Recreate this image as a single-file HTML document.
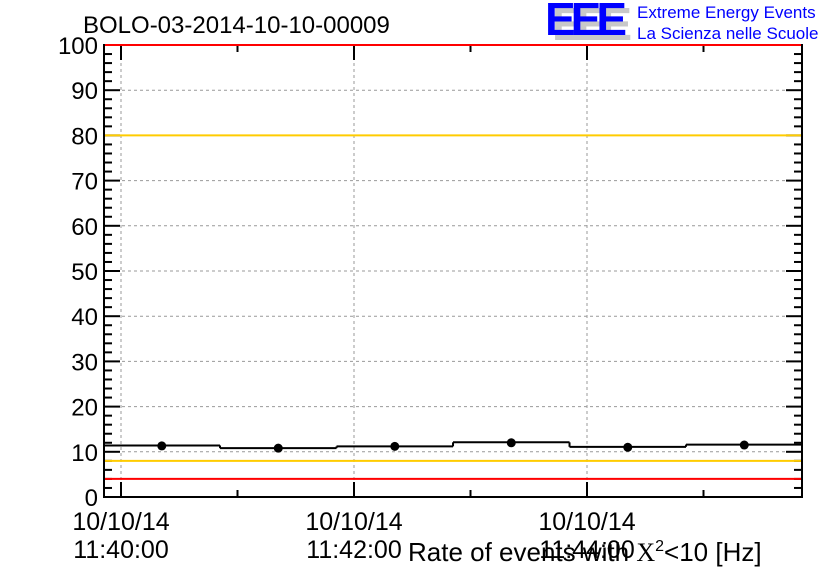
<!DOCTYPE html>
<html><head><meta charset="utf-8"><style>
body{margin:0;background:#fff;}
svg{display:block;font-family:"Liberation Sans",sans-serif;}
</style></head><body>
<svg id="c" width="836" height="572" xmlns="http://www.w3.org/2000/svg">
<rect width="836" height="572" fill="#fff"/>
<text x="83" y="33" font-size="24" fill="#000">BOLO-03-2014-10-10-00009</text>
<g>
<text x="552" y="40" font-size="46" font-weight="bold" fill="#c8c8c8" textLength="80">EEE</text>
<text x="545" y="35" font-size="46" font-weight="bold" fill="#0000ff" textLength="82">EEE</text>
<text x="637" y="18" font-size="17" fill="#0000ff">Extreme Energy Events</text>
<text x="637" y="39" font-size="17" fill="#0000ff">La Scienza nelle Scuole</text>
</g>
<g id="grid"></g><g id="marks"></g><g id="axes"></g><g id="lines"></g>
<text x="408" y="561" font-size="26" fill="#000">Rate of events with <tspan font-family="Liberation Serif">X</tspan><tspan dy="-10" font-size="16">2</tspan><tspan dy="10">&lt;10 [Hz]</tspan></text>
</svg>
<script>
const yTicks=[0,10,20,30,40,50,60,70,80,90,100];
const timeLabels=["11:40:00","11:42:00","11:44:00"];
const dateLabels=["10/10/14","10/10/14","10/10/14"];
const tickSeconds=[0,120,240];
const binStarts=[-9,51,111,171,231,291];
const binValues=[11.4,10.8,11.2,12.1,11.1,11.6];
const pointValues=[11.3,10.8,11.2,12.0,11.0,11.5];
const refLevels=[100,80,8,4];
const refColors=["#ff0000","#ffcc00","#ffcc00","#ff0000"];
const L=104,R=802,T=45,B=497,binW=60;
const sx=s=>121+s*(233/120);
const sy=v=>B-(v/100)*(B-T);
const NS="http://www.w3.org/2000/svg";
function mk(p,tag,a){const e=document.createElementNS(NS,tag);for(const k in a)e.setAttribute(k,a[k]);p.appendChild(e);return e;}
const grid=document.getElementById('grid'),lines=document.getElementById('lines'),marks=document.getElementById('marks'),axes=document.getElementById('axes');
yTicks.forEach(v=>{if(v>0&&v<100){const g=mk(grid,'line',{x1:L,x2:R,y1:sy(v),y2:sy(v),stroke:'#999','stroke-dasharray':'3,3','stroke-width':1});

}});
tickSeconds.forEach(s=>{const g=mk(grid,'line',{x1:sx(s),x2:sx(s),y1:T,y2:B,stroke:'#999','stroke-dasharray':'3,3','stroke-width':1});

});
refLevels.forEach((v,i)=>{const l=mk(lines,'line',{x1:L+1,x2:R-1,y1:sy(v),y2:sy(v),stroke:refColors[i],'stroke-width':2});

});
binStarts.forEach((s,i)=>{const x1=Math.max(L,sx(s)),x2=Math.min(R,sx(s+binW));
const b=mk(marks,'line',{x1:x1,x2:x2,y1:sy(binValues[i]),y2:sy(binValues[i]),stroke:'#000','stroke-width':2});


if(i>0){const v=mk(marks,'line',{x1:x1,x2:x1,y1:sy(binValues[i-1]),y2:sy(binValues[i]),stroke:'#000','stroke-width':2});

}
const c=mk(marks,'circle',{cx:sx(s+binW/2),cy:sy(pointValues[i]),r:4.5,fill:'#000'});

});
const f=mk(axes,'rect',{x:L,y:T,width:R-L,height:B-T,fill:'none',stroke:'#000','stroke-width':2});


for(let v=0;v<=100;v+=2){const maj=v%10===0,len=maj?16:8;
mk(axes,'line',{x1:L,x2:L+len,y1:sy(v),y2:sy(v),stroke:'#000','stroke-width':2});
mk(axes,'line',{x1:R,x2:R-len,y1:sy(v),y2:sy(v),stroke:'#000','stroke-width':2});}
yTicks.forEach(v=>{const t=mk(axes,'text',{x:L-6,y:sy(v)+9,'font-size':24,'text-anchor':'end',fill:'#000'});
t.textContent=v;

});
for(let s=0;s<=300;s+=60){const x=sx(s);if(x>R)break;const len=s%120===0?15:7;
mk(axes,'line',{x1:x,x2:x,y1:B,y2:B-len,stroke:'#000','stroke-width':2});
mk(axes,'line',{x1:x,x2:x,y1:T,y2:T+len,stroke:'#000','stroke-width':2});}
tickSeconds.forEach((s,i)=>{const x=sx(s);
const d=mk(axes,'text',{x:x,y:530,'font-size':25,'text-anchor':'middle',fill:'#000'});
d.textContent=dateLabels[i];


const t=mk(axes,'text',{x:x,y:558,'font-size':25,'text-anchor':'middle',fill:'#000'});
t.textContent=timeLabels[i];

});
</script>
</body></html>
